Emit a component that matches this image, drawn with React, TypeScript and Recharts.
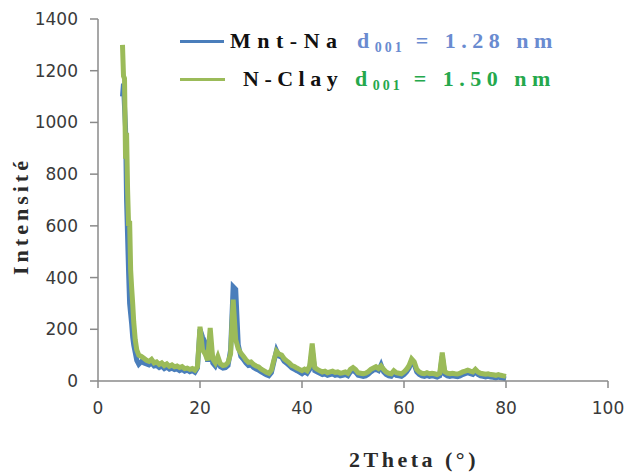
import React from 'react';
import { LineChart, Line, XAxis, YAxis } from 'recharts';

// 2θ positions (degrees)
const twoTheta = [
  4.8, 5.0, 5.2, 5.4, 5.6, 5.8, 6.0, 6.2, 6.4, 6.6, 6.8, 7.0, 7.3, 7.6, 8.0,
  8.5, 9, 9.5, 10, 10.5, 11, 11.5, 12, 12.5, 13, 13.5, 14, 14.5, 15, 15.5, 16, 16.5, 17, 17.5, 18, 18.5, 19, 19.5, 20,
  20.5, 21, 21.5, 22, 22.5, 23, 23.5, 24, 24.5, 25, 25.5, 26, 26.5, 27, 27.5, 28, 28.5, 29, 29.5, 30,
  30.5, 31, 31.5, 32, 32.5, 33, 33.5, 34, 34.5, 35, 35.5, 36, 36.5, 37, 37.5, 38, 38.5, 39, 39.5, 40,
  40.5, 41, 41.5, 42, 42.5, 43, 43.5, 44, 44.5, 45, 45.5, 46, 46.5, 47, 47.5, 48, 48.5, 49, 49.5, 50,
  50.5, 51, 51.5, 52, 52.5, 53, 53.5, 54, 54.5, 55, 55.5, 56, 56.5, 57, 57.5, 58, 58.5, 59, 59.5, 60,
  60.5, 61, 61.5, 62, 62.5, 63, 63.5, 64, 64.5, 65, 65.5, 66, 66.5, 67, 67.5, 68, 68.5, 69, 69.5, 70,
  70.5, 71, 71.5, 72, 72.5, 73, 73.5, 74, 74.5, 75, 75.5, 76, 76.5, 77, 77.5, 78, 78.5, 79, 79.5, 80,
];

// Mnt-Na intensities
const mntNa = [
  1100, 1150, 1060, 980, 700, 560, 420, 300, 260, 220, 170, 140, 110, 80, 65,
  75, 70, 66, 62, 70, 58, 60, 52, 58, 48, 54, 46, 50, 44, 47, 40, 45, 38, 42, 36, 40, 34, 50, 200,
  170, 150, 75, 160, 70, 58, 80, 55, 50, 52, 60, 120, 365, 355, 140, 95, 84, 70, 60, 62,
  52, 46, 42, 35, 30, 24, 20, 32, 75, 118, 96, 92, 76, 68, 60, 50, 45, 40, 34, 28,
  36, 30, 45, 120, 40, 35, 30, 25, 28, 22, 25, 28, 22, 25, 20, 22, 25, 20, 35, 42,
  34, 22, 20, 18, 20, 26, 35, 42, 45, 40, 62, 35, 25, 20, 18, 30, 22, 20, 18, 25,
  35, 50, 78, 64, 35, 25, 20, 18, 22, 18, 20, 18, 15, 20, 95, 26, 20, 18, 20, 18,
  17, 20, 25, 28, 32, 28, 25, 35, 25, 20, 18, 16, 18, 15, 14, 12, 15, 12, 10, 8,
];

// N-Clay intensities
const nClay = [
  1300, 1180, 1170, 860, 960, 740, 600, 620, 430, 360, 300, 230, 160, 120, 100,
  95, 88, 80, 76, 84, 70, 74, 64, 70, 60, 66, 57, 62, 55, 58, 52, 56, 48, 50, 45, 48, 42, 55, 210,
  120, 105, 80, 205, 85, 70, 95, 66, 60, 62, 72, 105, 315, 160, 125, 108, 96, 82, 72, 74,
  64, 58, 54, 46, 40, 34, 30, 42, 82, 115, 104, 100, 86, 78, 70, 60, 56, 50, 45, 40,
  46, 40, 58, 145, 52, 45, 40, 35, 38, 32, 35, 38, 33, 35, 30, 32, 35, 30, 45, 52,
  44, 32, 30, 28, 30, 36, 45, 50, 55, 48, 58, 45, 35, 30, 28, 40, 32, 30, 28, 35,
  45, 60, 85, 74, 45, 35, 30, 28, 32, 28, 30, 28, 25, 30, 110, 36, 30, 28, 30, 28,
  27, 30, 35, 38, 42, 38, 35, 45, 35, 30, 28, 26, 28, 25, 24, 22, 25, 22, 20, 18,
];

const xTicks = [0, 20, 40, 60, 80, 100];
const yTicks = [0, 200, 400, 600, 800, 1000, 1200, 1400];

const data = twoTheta.map((t, i) => ({ t, mntNa: mntNa[i], nClay: nClay[i] }));

const tickStyle = { fill: '#3a3a3a', fontSize: 17, fontFamily: 'DejaVu Sans' };
const serif = '"Liberation Serif", "DejaVu Serif", serif';

const legendText: React.CSSProperties = {
  position: 'absolute',
  fontFamily: serif,
  fontWeight: 700,
  fontSize: 22,
  whiteSpace: 'nowrap',
  lineHeight: '22px',
};

const D001 = ({ value, color, left, top }: { value: string; color: string; left: number; top: number }) => (
  <div style={{ ...legendText, left, top, color, letterSpacing: 5.5 }}>
    d<sub style={{ fontSize: 14, verticalAlign: -4, letterSpacing: 3 }}>001</sub> = {value} nm
  </div>
);

export default function App() {
  return (
    <div style={{ position: 'absolute', left: 0, top: 0, width: 625, height: 473, background: '#fff' }}>
      <LineChart width={625} height={473} data={data} margin={{ top: 19, right: 17, bottom: 62, left: 0 }}>
        <XAxis
          dataKey="t"
          type="number"
          domain={[0, 100]}
          ticks={xTicks}
          tick={tickStyle}
          tickSize={7}
          tickMargin={14}
          stroke="#8a8a8a"
          strokeWidth={1.5}
          height={30}
        />
        <YAxis
          domain={[0, 1400]}
          ticks={yTicks}
          tick={tickStyle}
          tickSize={8}
          tickMargin={12}
          stroke="#8a8a8a"
          strokeWidth={1.5}
          width={98}
        />
        <Line type="linear" dataKey="mntNa" stroke="#4a7ebb" strokeWidth={5} dot={false} isAnimationActive={false} />
        <Line type="linear" dataKey="nClay" stroke="#9bbb59" strokeWidth={5} dot={false} isAnimationActive={false} />
      </LineChart>

      {/* legend */}
      <div style={{ position: 'absolute', left: 180, top: 40, width: 44, height: 3, background: '#4a7ebb' }} />
      <div style={{ ...legendText, left: 230, top: 30, color: '#111', letterSpacing: 6.5 }}>Mnt-Na</div>
      <D001 value="1.28" color="#6a8bd0" left={357} top={30} />
      <div style={{ position: 'absolute', left: 180, top: 78, width: 45, height: 3, background: '#9bbb59' }} />
      <div style={{ ...legendText, left: 243, top: 68, color: '#111', letterSpacing: 5.5 }}>N-Clay</div>
      <D001 value="1.50" color="#25a84c" left={355} top={68} />

      {/* axis titles */}
      <div
        style={{
          ...legendText,
          left: 21,
          top: 216,
          color: '#2a2a2a',
          letterSpacing: 4,
          transform: 'translate(-50%, -50%) rotate(-90deg)',
        }}
      >
        Intensité
      </div>
      <div
        style={{
          ...legendText,
          left: 414,
          top: 460,
          color: '#2a2a2a',
          letterSpacing: 3.5,
          transform: 'translate(-50%, -50%)',
        }}
      >
        2Theta (°)
      </div>
    </div>
  );
}
